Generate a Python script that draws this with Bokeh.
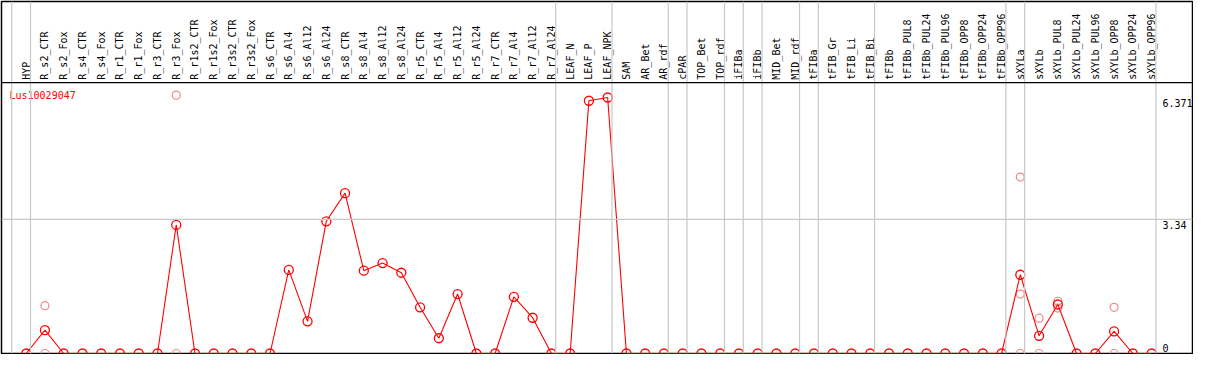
import numpy as np
from bokeh.plotting import figure
from bokeh.models import ColumnDataSource, Range1d, Span
from bokeh.core.properties import value
from bokeh.embed import file_html
from bokeh.resources import INLINE

gene = "Lus10029047"

categories = [
    "HYP", "R_s2_CTR", "R_s2_Fox", "R_s4_CTR", "R_s4_Fox", "R_r1_CTR", "R_r1_Fox",
    "R_r3_CTR", "R_r3_Fox", "R_r1s2_CTR", "R_r1s2_Fox", "R_r3s2_CTR", "R_r3s2_Fox",
    "R_s6_CTR", "R_s6_Al4", "R_s6_Al12", "R_s6_Al24", "R_s8_CTR", "R_s8_Al4",
    "R_s8_Al12", "R_s8_Al24", "R_r5_CTR", "R_r5_Al4", "R_r5_Al12", "R_r5_Al24",
    "R_r7_CTR", "R_r7_Al4", "R_r7_Al12", "R_r7_Al24", "LEAF_N", "LEAF_P", "LEAF_NPK",
    "SAM", "AR_Bet", "AR_rdf", "cPAR", "TOP_Bet", "TOP_rdf", "iFIBa", "iFIBb",
    "MID_Bet", "MID_rdf", "tFIBa", "tFIB_Gr", "tFIB_Li", "tFIB_Bi", "tFIBb",
    "tFIBb_PUL8", "tFIBb_PUL24", "tFIBb_PUL96", "tFIBb_OPP8", "tFIBb_OPP24", "tFIBb_OPP96",
    "sXYLa", "sXYLb", "sXYLb_PUL8", "sXYLb_PUL24", "sXYLb_PUL96", "sXYLb_OPP8",
    "sXYLb_OPP24", "sXYLb_OPP96",
]

mean_values = [
    0.0, 0.58, 0.0, 0.0, 0.0, 0.0, 0.0,
    0.0, 3.20, 0.0, 0.0, 0.0, 0.0,
    0.0, 2.08, 0.80, 3.29, 3.99, 2.06,
    2.25, 2.01, 1.15, 0.38, 1.48, 0.0,
    0.0, 1.41, 0.89, 0.0, 0.0, 6.29, 6.371,
    0.0, 0.0, 0.0, 0.0, 0.0, 0.0, 0.0, 0.0,
    0.0, 0.0, 0.0, 0.0, 0.0, 0.0, 0.0,
    0.0, 0.0, 0.0, 0.0, 0.0, 0.0,
    1.96, 0.44, 1.22, 0.0, 0.0, 0.55,
    0.0, 0.0,
]

# individual replicates (light circles)
rep_categories = [
    "R_s2_CTR", "R_s2_CTR", "R_r3_Fox", "R_r3_Fox",
    "sXYLa", "sXYLa", "sXYLa", "sXYLb", "sXYLb",
    "sXYLb_PUL8", "sXYLb_PUL8", "sXYLb_OPP8", "sXYLb_OPP8",
]
rep_values = [
    1.19, 0.0, 6.43, 0.0,
    4.39, 1.48, 0.0, 0.88, 0.0,
    1.30, 1.13, 1.15, 0.0,
]

# last sample of each group (group separators)
group_ends = ["HYP", "R_r7_Al24", "LEAF_NPK", "AR_rdf", "cPAR", "TOP_rdf", "iFIBa",
              "iFIBb", "MID_rdf", "tFIBa", "tFIB_Bi", "tFIBb_OPP96", "sXYLa", "sXYLb_OPP96"]

ytick_values = [0, 3.34, 6.371]
ytick_labels = ["0", "3.34", "6.371"]

# ---------------------------------------------------------------------------
idx = {c: i for i, c in enumerate(categories)}
xs = np.arange(len(categories))

X0, X1 = -1.316, 62.18
Y0, Y1 = 0.0, 8.76
HEADER_Y = 6.74

FONT = value("DejaVu Sans Mono")

p = figure(width=1193, height=354, output_backend="svg", toolbar_location=None,
           x_range=Range1d(X0, X1), y_range=Range1d(Y0, Y1),
           min_border=1, min_border_left=1, min_border_right=1,
           min_border_top=1, min_border_bottom=1)
p.axis.visible = False
p.grid.visible = False
p.outline_line_color = "black"
p.outline_line_width = 1.5
p.background_fill_color = "white"
p.border_fill_color = "white"

grid_col = "#c8c8c8"
# separators
seps = [-1 + 0.23] + [idx[g] + 0.23 for g in group_ends]
for s in seps:
    p.add_layout(Span(location=s, dimension="height", line_color=grid_col, line_width=1.2))
# horizontal mid gridline
p.add_layout(Span(location=ytick_values[1], dimension="width", line_color=grid_col, line_width=1.2))
# header line
p.add_layout(Span(location=HEADER_Y, dimension="width", line_color="black", line_width=1.2))

# category labels in header
p.text(x=xs, y=[HEADER_Y] * len(xs), text=categories, angle=np.pi / 2,
       text_align="left", text_baseline="middle", y_offset=-3,
       text_font=FONT, text_font_size="10px", text_color="black")

# gene name
p.text(x=[X0], y=[HEADER_Y], text=[gene], x_offset=8, y_offset=7,
       text_align="left", text_baseline="top",
       text_font=FONT, text_font_size="10px", text_color="red")

# value labels on the right
offs = [-2 if v == 0 else 2 for v in ytick_values]
bases = ["bottom" if v == 0 else "top" for v in ytick_values]
for v, lab, o, b in zip(ytick_values, ytick_labels, offs, bases):
    p.text(x=[X1], y=[v], text=[lab], x_offset=-30, y_offset=o,
           text_align="left", text_baseline=b,
           text_font=FONT, text_font_size="10px", text_color="black")

# replicates
rsrc = ColumnDataSource(dict(x=[idx[c] for c in rep_categories], y=rep_values))
p.scatter("x", "y", source=rsrc, marker="circle", size=8, fill_color=None,
          line_color="#f08888", line_width=1.2)

# mean line + circles
msrc = ColumnDataSource(dict(x=xs, y=mean_values))
p.line("x", "y", source=msrc, line_color="red", line_width=1.1)
p.scatter("x", "y", source=msrc, marker="circle", size=9, fill_color=None,
          line_color="red", line_width=1.3)

open("out.html", "w").write(file_html(p, INLINE))
